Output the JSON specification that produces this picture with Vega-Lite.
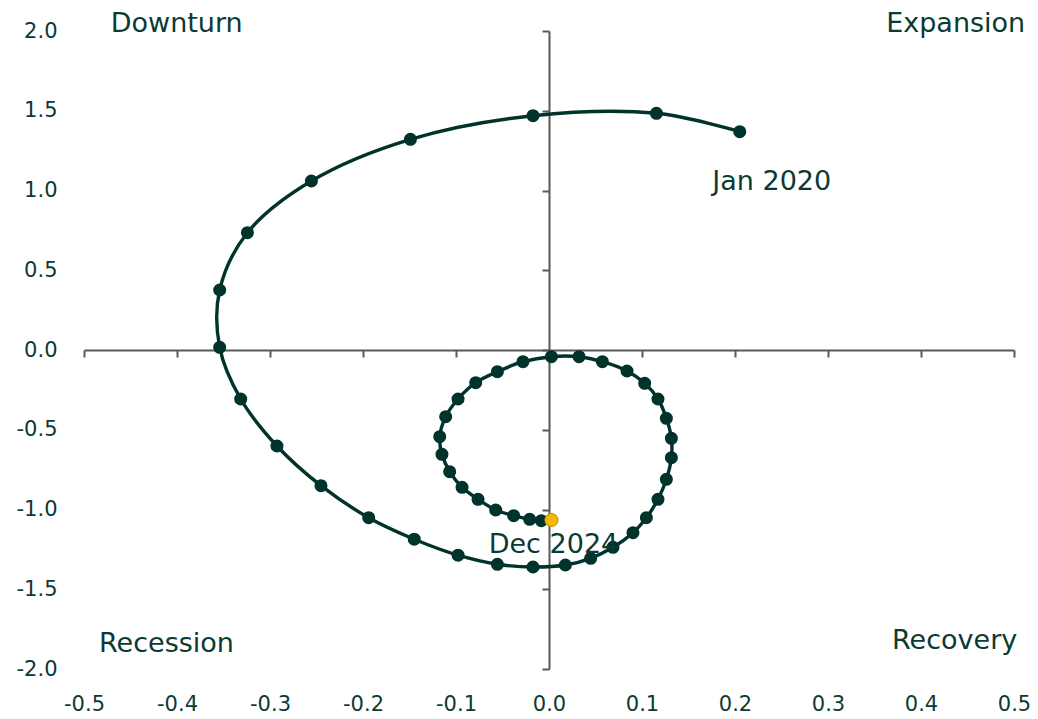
{
  "$schema": "https://vega.github.io/schema/vega-lite/v6.json",
  "autosize": "none",
  "width": 930,
  "height": 638,
  "padding": {"left": 84, "top": 31, "right": 24, "bottom": 50},
  "background": "white",
  "config": {"view": {"stroke": null}, "font": "DejaVu Sans"},
  "datasets": {
    "path": [
      {"i": 1, "x": 0.2051, "y": 1.3687, "label": "Jan 2020"},
      {"i": 2, "x": 0.1155, "y": 1.484},
      {"i": 3, "x": -0.0172, "y": 1.469},
      {"i": 4, "x": -0.149, "y": 1.321},
      {"i": 5, "x": -0.2555, "y": 1.0596},
      {"i": 6, "x": -0.3243, "y": 0.7354},
      {"i": 7, "x": -0.3541, "y": 0.3762},
      {"i": 8, "x": -0.3541, "y": 0.0169},
      {"i": 9, "x": -0.3315, "y": -0.3072},
      {"i": 10, "x": -0.2925, "y": -0.6019},
      {"i": 11, "x": -0.2452, "y": -0.8508},
      {"i": 12, "x": -0.1939, "y": -1.0514},
      {"i": 13, "x": -0.1449, "y": -1.1862},
      {"i": 14, "x": -0.0978, "y": -1.2865},
      {"i": 15, "x": -0.0555, "y": -1.3436},
      {"i": 16, "x": -0.0172, "y": -1.3605},
      {"i": 17, "x": 0.0176, "y": -1.348},
      {"i": 18, "x": 0.0448, "y": -1.306},
      {"i": 19, "x": 0.0688, "y": -1.237},
      {"i": 20, "x": 0.0903, "y": -1.1455},
      {"i": 21, "x": 0.1047, "y": -1.0514},
      {"i": 22, "x": 0.1172, "y": -0.936},
      {"i": 23, "x": 0.1262, "y": -0.8107},
      {"i": 24, "x": 0.1316, "y": -0.6752},
      {"i": 25, "x": 0.1316, "y": -0.5536},
      {"i": 26, "x": 0.1262, "y": -0.4282},
      {"i": 27, "x": 0.1172, "y": -0.3072},
      {"i": 28, "x": 0.1029, "y": -0.2088},
      {"i": 29, "x": 0.0839, "y": -0.1317},
      {"i": 30, "x": 0.0574, "y": -0.0734},
      {"i": 31, "x": 0.0323, "y": -0.042},
      {"i": 32, "x": 0.0026, "y": -0.042},
      {"i": 33, "x": -0.028, "y": -0.0734},
      {"i": 34, "x": -0.0555, "y": -0.136},
      {"i": 35, "x": -0.0788, "y": -0.205},
      {"i": 36, "x": -0.0978, "y": -0.3072},
      {"i": 37, "x": -0.1111, "y": -0.4182},
      {"i": 38, "x": -0.1175, "y": -0.5436},
      {"i": 39, "x": -0.1151, "y": -0.6539},
      {"i": 40, "x": -0.1068, "y": -0.763},
      {"i": 41, "x": -0.0935, "y": -0.8608},
      {"i": 42, "x": -0.0763, "y": -0.936},
      {"i": 43, "x": -0.0573, "y": -1.0031},
      {"i": 44, "x": -0.038, "y": -1.0389},
      {"i": 45, "x": -0.0208, "y": -1.0614},
      {"i": 46, "x": -0.0082, "y": -1.0702},
      {"i": 47, "x": 0.0026, "y": -1.0658, "label": "Dec 2024", "latest": true}
    ],
    "labels": [
      {"text": "Downturn", "x": -0.4003, "y": 1.995},
      {"text": "Expansion", "x": 0.4373, "y": 1.994},
      {"text": "Recession", "x": -0.4113, "y": -1.895},
      {"text": "Recovery", "x": 0.4362, "y": -1.877},
      {"text": "Jan 2020", "x": 0.2395, "y": 1.003},
      {"text": "Dec 2024", "x": 0.0048, "y": -1.271}
    ]
  },
  "layer": [
    {
      "data": {"name": "path"},
      "mark": {"type": "line", "interpolate": "catmull-rom", "color": "#00332b", "strokeWidth": 3.4},
      "encoding": {
        "x": {
          "field": "x", "type": "quantitative",
          "scale": {"domain": [-0.5, 0.5], "nice": false, "zero": false},
          "axis": {
            "orient": "bottom", "title": null, "domain": false, "ticks": false, "tickSize": 0, "grid": false,
            "values": [-0.5, -0.4, -0.3, -0.2, -0.1, 0, 0.1, 0.2, 0.3, 0.4, 0.5],
            "labelExpr": "(datum.value < -0.00001 ? '-' : '') + format(abs(datum.value), '.1f')",
            "labelPadding": 24, "labelFontSize": 21, "labelColor": "#0b3a32", "labelFlush": false, "labelOverlap": false
          }
        },
        "y": {
          "field": "y", "type": "quantitative",
          "scale": {"domain": [-2, 2], "nice": false, "zero": false},
          "axis": {
            "orient": "left", "title": null, "domain": false, "ticks": false, "tickSize": 0, "grid": false,
            "values": [-2, -1.5, -1, -0.5, 0, 0.5, 1, 1.5, 2],
            "labelExpr": "(datum.value < -0.00001 ? '-' : '') + format(abs(datum.value), '.1f')",
            "labelPadding": 27, "labelFontSize": 21, "labelColor": "#0b3a32", "labelFlush": false, "labelOverlap": false
          }
        },
        "order": {"field": "i", "type": "quantitative"}
      }
    },
    {
      "data": {"name": "path"},
      "mark": {"type": "circle", "color": "#00332b", "opacity": 1, "size": 170},
      "encoding": {
        "x": {
          "field": "x", "type": "quantitative",
          "axis": {
            "orient": "bottom", "offset": -319, "title": null, "labels": false, "grid": false,
            "domain": true, "domainColor": "#595959", "domainWidth": 2,
            "ticks": true, "tickColor": "#595959", "tickWidth": 2, "tickSize": 7,
            "values": [-0.5, -0.4, -0.3, -0.2, -0.1, 0, 0.1, 0.2, 0.3, 0.4, 0.5]
          }
        },
        "y": {
          "field": "y", "type": "quantitative",
          "axis": {
            "orient": "left", "offset": -465, "title": null, "labels": false, "grid": false,
            "domain": true, "domainColor": "#595959", "domainWidth": 2,
            "ticks": true, "tickColor": "#595959", "tickWidth": 2, "tickSize": 7,
            "values": [-2, -1.5, -1, -0.5, 0, 0.5, 1, 1.5, 2]
          }
        }
      }
    },
    {
      "data": {"name": "path"},
      "transform": [{"filter": "datum.latest === true"}],
      "mark": {"type": "circle", "color": "#f5b800", "opacity": 1, "size": 170, "stroke": "#c99400", "strokeWidth": 1},
      "encoding": {
        "x": {"field": "x", "type": "quantitative", "axis": null},
        "y": {"field": "y", "type": "quantitative", "axis": null}
      }
    },
    {
      "data": {"name": "labels"},
      "mark": {"type": "text", "fontSize": 27, "color": "#0b3a32", "align": "center", "baseline": "alphabetic"},
      "encoding": {
        "x": {"field": "x", "type": "quantitative", "axis": null},
        "y": {"field": "y", "type": "quantitative", "axis": null},
        "text": {"field": "text"}
      }
    }
  ],
  "resolve": {"axis": {"x": "independent", "y": "independent"}}
}
